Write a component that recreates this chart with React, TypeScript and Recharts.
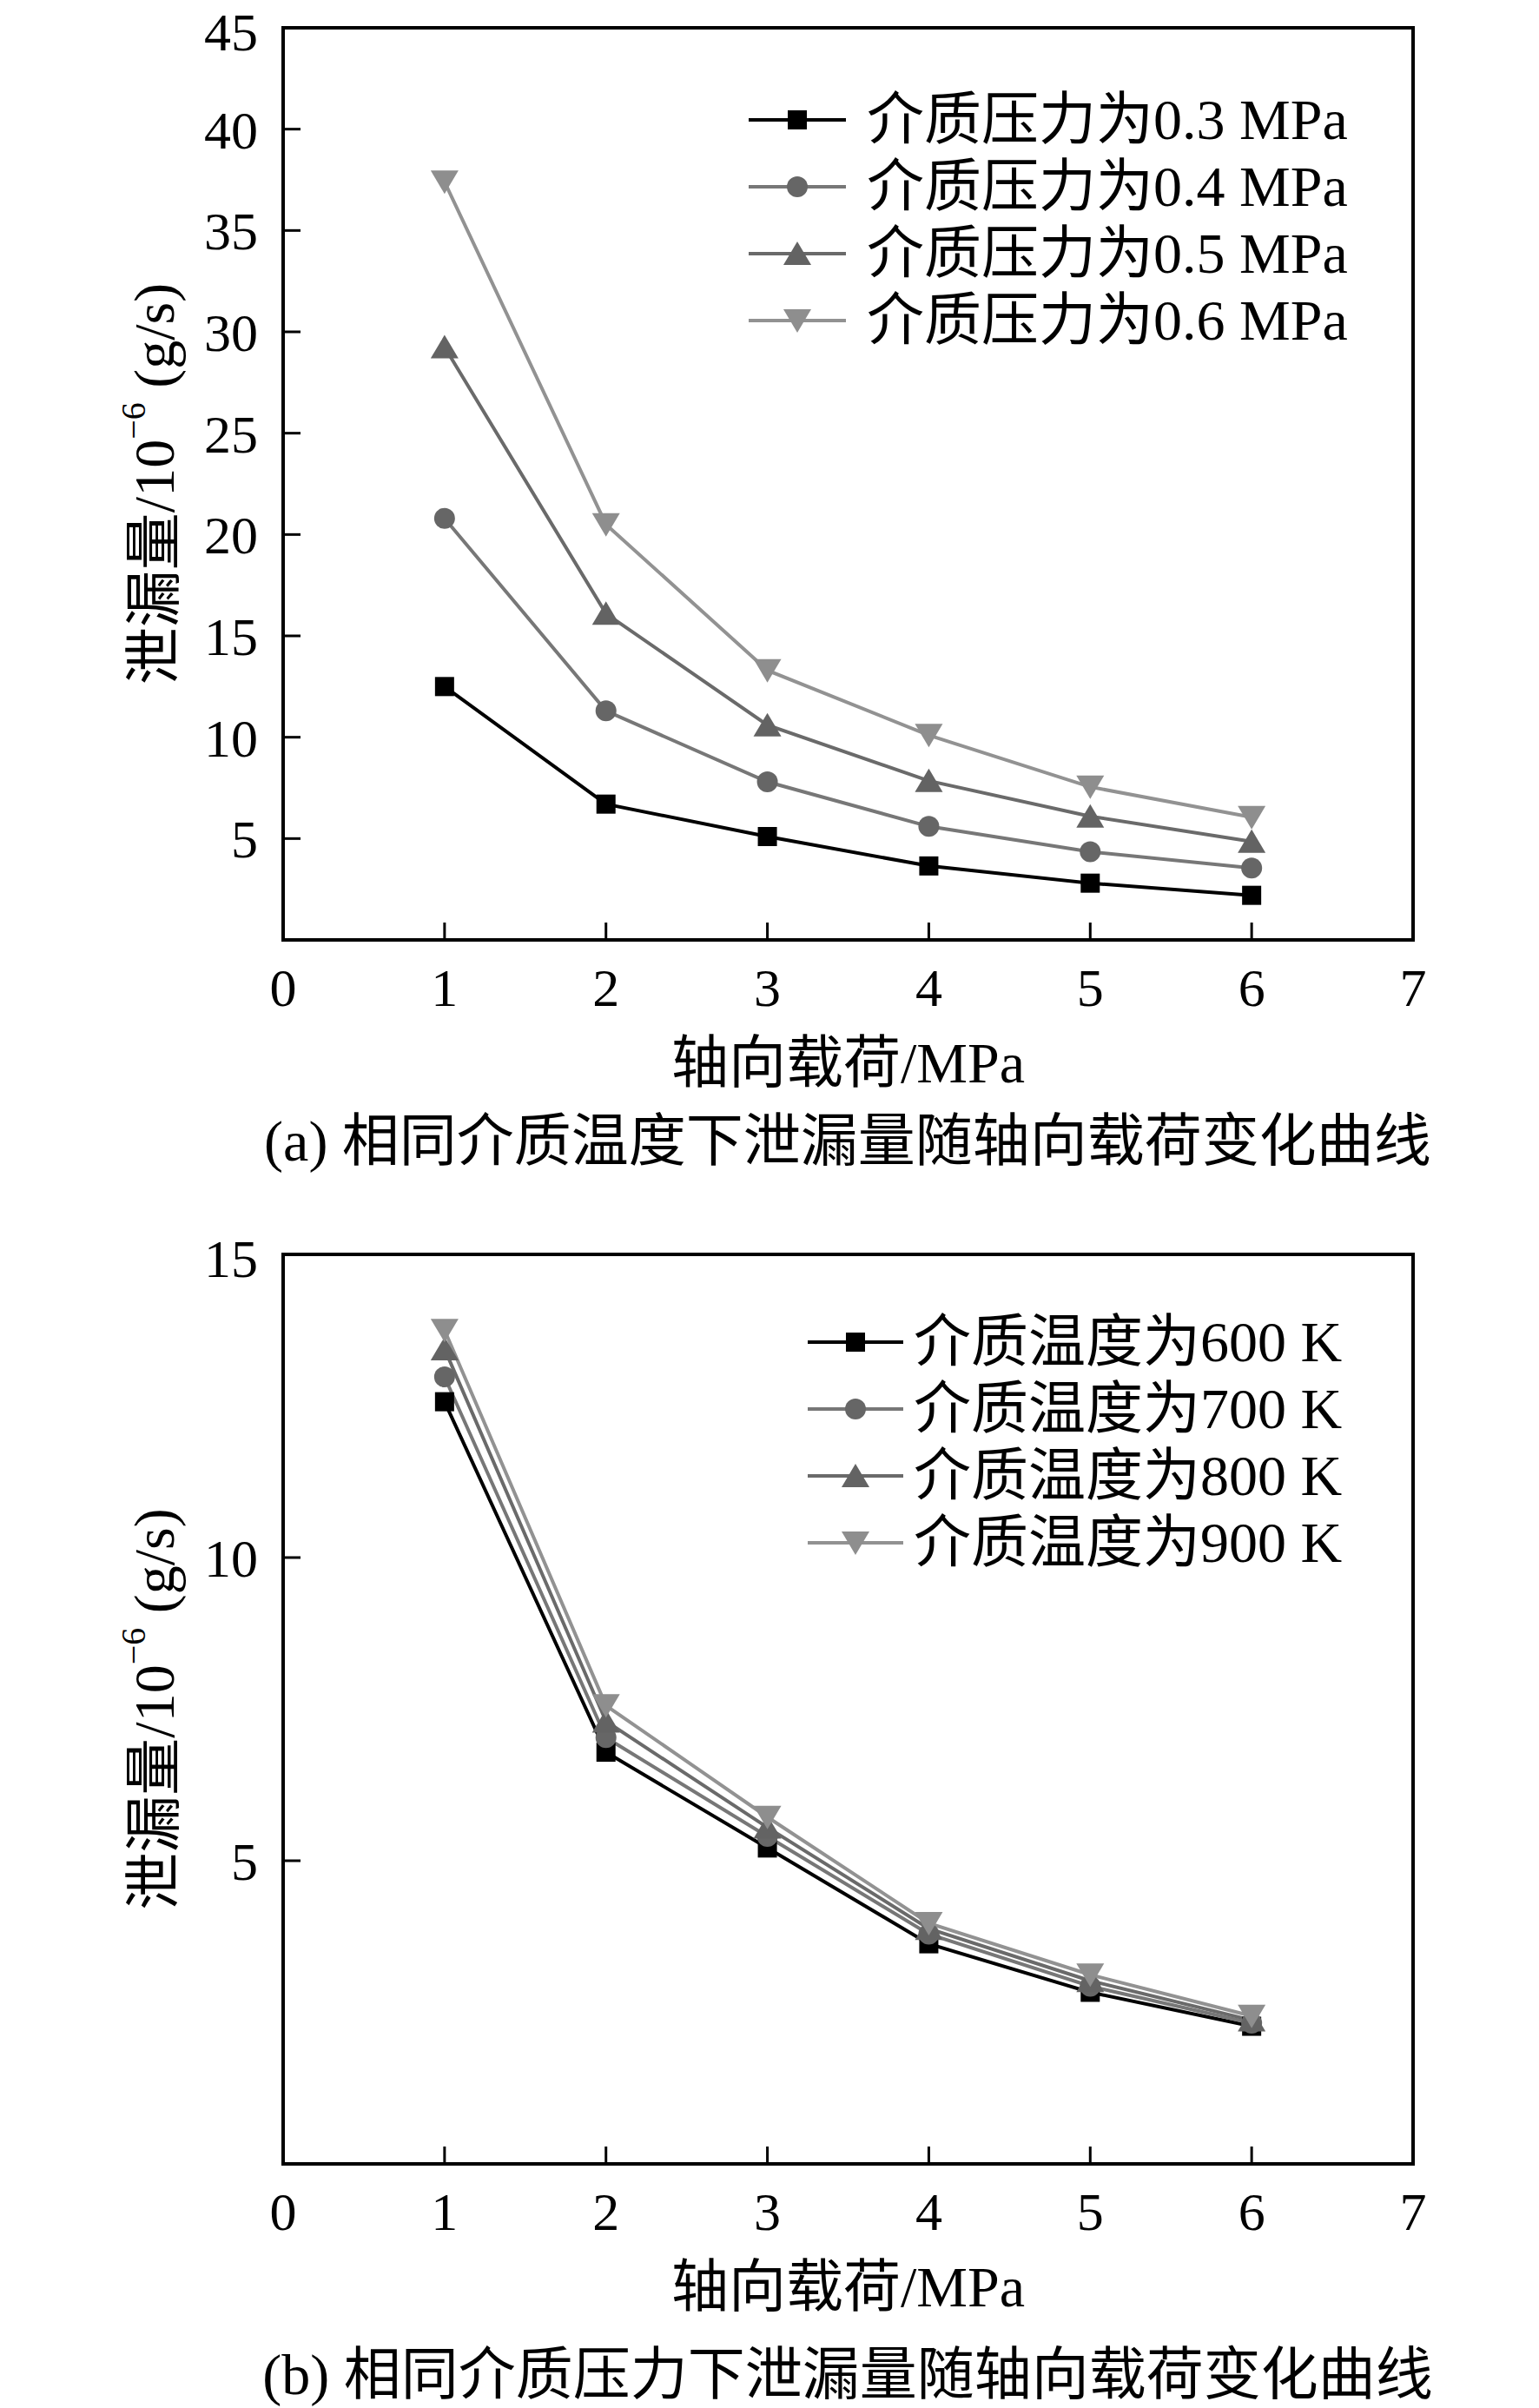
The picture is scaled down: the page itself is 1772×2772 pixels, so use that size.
import { LineChart, Line, XAxis, YAxis, ReferenceArea } from 'recharts'

const loads = [1, 2, 3, 4, 5, 6]
const xTicks = [0, 1, 2, 3, 4, 5, 6, 7]

// (a) 不同介质压力
const pressureNames = ['介质压力为0.3 MPa', '介质压力为0.4 MPa', '介质压力为0.5 MPa', '介质压力为0.6 MPa']
const p03 = [12.5, 6.7, 5.1, 3.65, 2.8, 2.2]
const p04 = [20.8, 11.3, 7.8, 5.6, 4.35, 3.55]
const p05 = [29.25, 16.1, 10.6, 7.85, 6.1, 4.85]
const p06 = [37.4, 20.5, 13.3, 10.1, 7.55, 6.05]
const yTicksA = [5, 10, 15, 20, 25, 30, 35, 40, 45]

// (b) 不同介质温度
const tempNames = ['介质温度为600 K', '介质温度为700 K', '介质温度为800 K', '介质温度为900 K']
const t600 = [12.57, 6.79, 5.21, 3.63, 2.83, 2.27]
const t700 = [12.98, 7.03, 5.4, 3.79, 2.93, 2.32]
const t800 = [13.44, 7.3, 5.55, 3.88, 3.02, 2.37]
const t900 = [13.75, 7.56, 5.72, 3.97, 3.12, 2.44]
const yTicksB = [5, 10, 15]

const FONT = "'Liberation Serif', 'Times New Roman', 'Noto Sans CJK SC', serif"
const kinds = ['square', 'circle', 'up', 'down']
const lineColors = ['#000000', '#777777', '#6a6a6a', '#929292']
const markColors = ['#000000', '#666666', '#636363', '#8e8e8e']

const dataA = loads.map((x, i) => ({ x, s0: p03[i], s1: p04[i], s2: p05[i], s3: p06[i] }))
const dataB = loads.map((x, i) => ({ x, s0: t600[i], s1: t700[i], s2: t800[i], s3: t900[i] }))

function Mark({ kind, cx, cy, color }: { kind: string; cx: number; cy: number; color: string }) {
  if (kind === 'square') return <rect x={cx - 11} y={cy - 11} width={22} height={22} fill={color} />
  if (kind === 'circle') return <circle cx={cx} cy={cy} r={12} fill={color} />
  if (kind === 'up')
    return <polygon points={`${cx},${cy - 14} ${cx - 16},${cy + 13} ${cx + 16},${cy + 13}`} fill={color} />
  return <polygon points={`${cx},${cy + 14} ${cx - 16},${cy - 13} ${cx + 16},${cy - 13}`} fill={color} />
}

const dotFor = (i: number) => (props: any) => {
  if (props.cx == null || props.cy == null) return <g key={`d${i}-${props.index}`} />
  return <Mark key={`d${i}-${props.index}`} kind={kinds[i]} cx={props.cx} cy={props.cy} color={markColors[i]} />
}

function YLabel(props: any) {
  const vb = props.viewBox || {}
  const cx = vb.x + 177
  const cy = vb.y + vb.height / 2
  return (
    <text
      x={cx}
      y={cy}
      transform={`rotate(-90 ${cx} ${cy})`}
      textAnchor="middle"
      dominantBaseline="central"
      fontFamily={FONT}
      fontSize={66}
      fill="#000"
    >
      泄漏量/10
      <tspan fontSize={40} dy={-24}>−6</tspan>
      <tspan fontSize={66} dy={24}> (g/s)</tspan>
    </text>
  )
}

function XLabel(props: any) {
  const vb = props.viewBox || {}
  return (
    <text
      x={vb.x + vb.width / 2}
      y={vb.y + 141}
      textAnchor="middle"
      dominantBaseline="central"
      fontFamily={FONT}
      fontSize={66}
      fill="#000"
    >
      轴向载荷/MPa
    </text>
  )
}

function LegendBox({ names, left, top, lineLen, gap }: { names: string[]; left: number; top: number; lineLen: number; gap: number }) {
  return (
    <div style={{ position: 'absolute', left, top, fontFamily: FONT, fontSize: 66, color: '#000' }}>
      {names.map((n, i) => (
        <div key={n} style={{ display: 'flex', alignItems: 'center', height: 77, whiteSpace: 'nowrap' }}>
          <svg width={lineLen} height={40} style={{ marginRight: gap }}>
            <line x1={0} y1={20} x2={lineLen} y2={20} stroke={lineColors[i]} strokeWidth={4} />
            <Mark kind={kinds[i]} cx={lineLen / 2} cy={20} color={markColors[i]} />
          </svg>
          <span style={{ lineHeight: '77px' }}>{n}</span>
        </div>
      ))}
    </div>
  )
}

function Panel({
  data,
  yMax,
  yTicks,
  names,
  legendLeft,
  legendTop,
  legendLine,
  legendGap,
  plotHeight,
}: {
  data: any[]
  yMax: number
  yTicks: number[]
  names: string[]
  legendLeft: number
  legendTop: number
  legendLine: number
  legendGap: number
  plotHeight: number
}) {
  const tickStyle = { fontFamily: FONT, fontSize: 62, fill: '#000' }
  return (
    <div style={{ position: 'relative', width: 1772, height: 1280 }}>
      <LineChart width={1772} height={1280} data={data} margin={{ top: 32, right: 145, left: 0, bottom: 0 }}>
        <XAxis
          dataKey="x"
          type="number"
          domain={[0, 7]}
          ticks={xTicks}
          allowDataOverflow
          height={1280 - 32 - plotHeight}
          tick={tickStyle}
          tickSize={-20}
          tickMargin={52}
          stroke="#000"
          axisLine={{ stroke: '#000', strokeWidth: 4 }}
          tickLine={{ stroke: '#000', strokeWidth: 3 }}
          label={<XLabel />}
        />
        <YAxis
          type="number"
          domain={[0, yMax]}
          ticks={yTicks}
          allowDataOverflow
          width={326}
          tick={tickStyle}
          tickSize={-20}
          tickMargin={49}
          stroke="#000"
          axisLine={{ stroke: '#000', strokeWidth: 4 }}
          tickLine={{ stroke: '#000', strokeWidth: 3 }}
          label={<YLabel />}
        />
        <ReferenceArea x1={0} x2={7} y1={0} y2={yMax} fill="none" stroke="#000" strokeWidth={4} />
        {[0, 1, 2, 3].map((i) => (
          <Line
            key={i}
            dataKey={`s${i}`}
            type="linear"
            stroke={lineColors[i]}
            strokeWidth={4}
            dot={dotFor(i)}
            activeDot={false}
            isAnimationActive={false}
          />
        ))}
      </LineChart>
      <LegendBox names={names} left={legendLeft} top={legendTop} lineLen={legendLine} gap={legendGap} />
    </div>
  )
}

export default function App() {
  const caption = {
    position: 'absolute' as const,
    left: 0,
    width: 1952,
    textAlign: 'center' as const,
    fontFamily: FONT,
    fontSize: 66,
    lineHeight: '80px',
    color: '#000',
  }
  return (
    <div style={{ position: 'absolute', left: 0, top: 0, width: 1772, height: 2772, background: '#fff' }}>
      <div style={{ position: 'absolute', left: 0, top: 0 }}>
        <Panel
          data={dataA}
          yMax={45}
          yTicks={yTicksA}
          names={pressureNames}
          legendLeft={862}
          legendTop={99}
          legendLine={112}
          legendGap={24}
          plotHeight={1050}
        />
      </div>
      <div style={{ ...caption, top: 1274 }}>(a) 相同介质温度下泄漏量随轴向载荷变化曲线</div>
      <div style={{ position: 'absolute', left: 0, top: 1412 }}>
        <Panel
          data={dataB}
          yMax={15}
          yTicks={yTicksB}
          names={tempNames}
          legendLeft={930}
          legendTop={94}
          legendLine={110}
          legendGap={12}
          plotHeight={1047}
        />
      </div>
      <div style={{ ...caption, top: 2694 }}>(b) 相同介质压力下泄漏量随轴向载荷变化曲线</div>
    </div>
  )
}
